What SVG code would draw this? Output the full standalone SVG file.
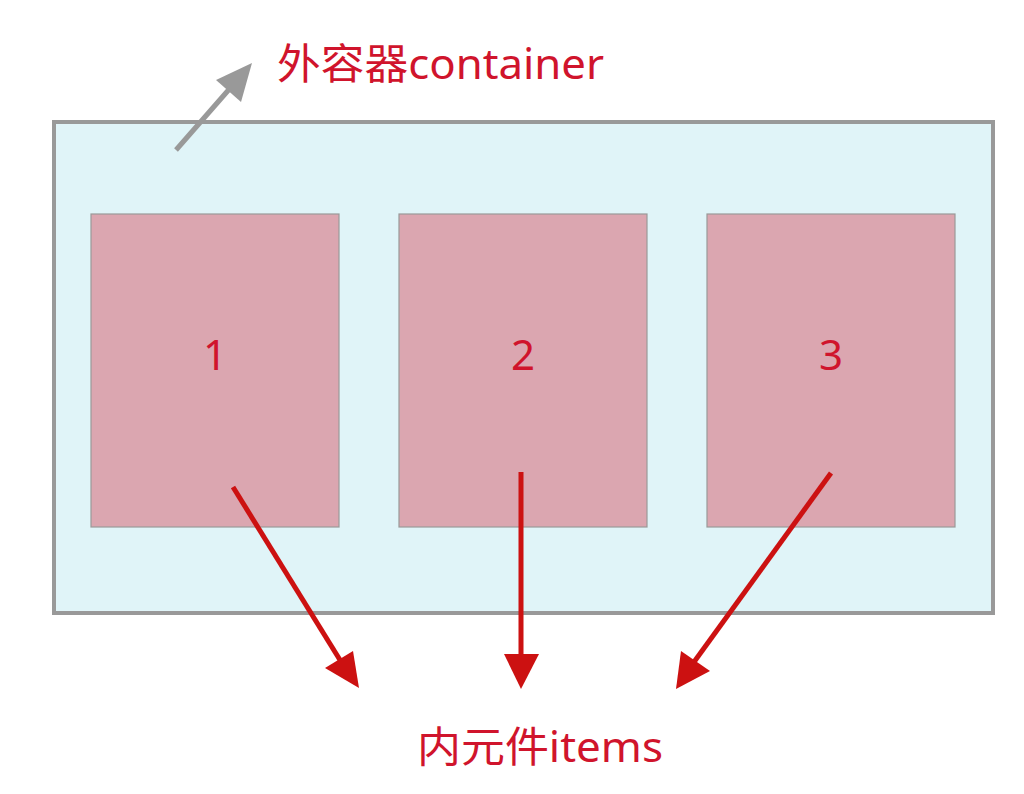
<svg xmlns="http://www.w3.org/2000/svg" width="1024" height="794" viewBox="0 0 1024 794">
<style>
.lbl{font-family:"Noto Sans","Noto Sans CJK SC",sans-serif;fill:#d0142c}
.item{fill:#dba6b0;stroke:#999;stroke-width:1.2}
.num{font-family:"Noto Sans","Liberation Sans",sans-serif;font-size:42px;fill:#d0142c;text-anchor:middle}
.red{stroke:#cc1111;stroke-width:5;fill:none}
</style>
<rect width="1024" height="794" fill="#fff"/>
<g id="container">
<rect x="54" y="122" width="939" height="491" fill="#e0f4f8" stroke="#999" stroke-width="4"/>
</g>
<g id="item1"><rect class="item" x="91" y="214" width="248" height="313"/><text class="num" x="215" y="370">1</text></g>
<g id="item2"><rect class="item" x="399" y="214" width="248" height="313"/><text class="num" x="523" y="370">2</text></g>
<g id="item3"><rect class="item" x="707" y="214" width="248" height="313"/><text class="num" x="831" y="370">3</text></g>
<g id="label-container"><text class="lbl" x="277" y="79" font-size="42" textLength="327" lengthAdjust="spacingAndGlyphs">外容器container</text></g>
<g id="label-items"><text class="lbl" x="417" y="762" font-size="42" textLength="246" lengthAdjust="spacingAndGlyphs">内元件items</text></g>
<g id="connectors">
<line x1="176" y1="150" x2="232" y2="86" stroke="#999" stroke-width="5"/>
<polygon points="252,63 216,80 241,102" fill="#999"/>
<line class="red" x1="233" y1="487" x2="340" y2="660"/>
<polygon points="359,688 325,668 353,651" fill="#cc1111"/>
<line class="red" x1="521" y1="472" x2="521" y2="658"/>
<polygon points="521,689 504,654 539,654" fill="#cc1111"/>
<line class="red" x1="831" y1="473" x2="694" y2="662"/>
<polygon points="676,689 681,651 710,671" fill="#cc1111"/>
</g>
</svg>
